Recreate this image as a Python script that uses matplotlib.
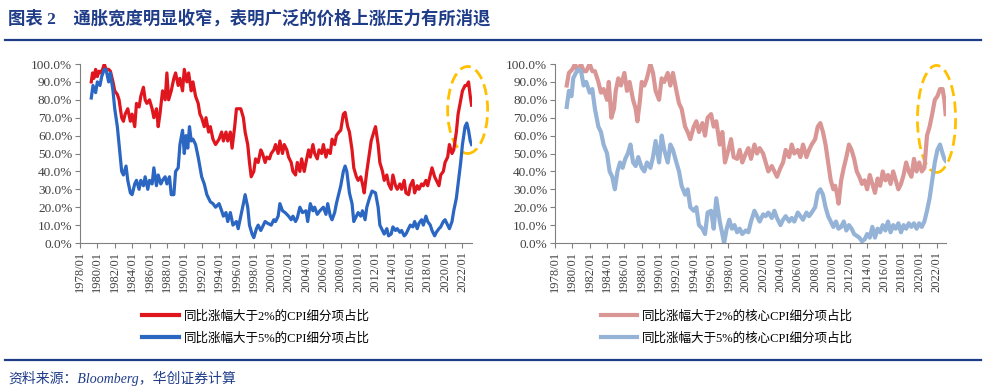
import numpy as np
import matplotlib.pyplot as plt
from matplotlib.patches import Ellipse
from matplotlib.lines import Line2D

plt.rcParams['font.family'] = ['Liberation Serif', 'Noto Sans CJK SC']

# ---- data ----
title = '图表 2    通胀宽度明显收窄，表明广泛的价格上涨压力有所消退'
source = '资料来源：Bloomberg，华创证券计算'
labels_left = ['同比涨幅大于2%的CPI细分项占比', '同比涨幅大于5%的CPI细分项占比']
labels_right = ['同比涨幅大于2%的核心CPI细分项占比', '同比涨幅大于5%的核心CPI细分项占比']
tick_years = list(range(1978, 2023, 2))
tick_labels = ['%d/01' % y for y in tick_years]
y_ticks = [0, 10, 20, 30, 40, 50, 60, 70, 80, 90, 100]

# headline CPI, share of items > 2%
cpi2_x = [1979.3, 1979.45, 1979.6, 1979.8, 1980.0, 1980.2, 1980.4, 1980.6, 1980.8, 1981.0,
          1981.3, 1981.5, 1981.8, 1982.0, 1982.3, 1982.5, 1982.8, 1983.0, 1983.2, 1983.5,
          1983.8, 1984.0, 1984.3, 1984.5, 1984.8, 1985.0, 1985.3, 1985.5, 1985.7, 1986.0,
          1986.3, 1986.5, 1986.8, 1987.0, 1987.2, 1987.5, 1987.8, 1988.0, 1988.2, 1988.5,
          1988.8, 1989.0, 1989.3, 1989.5, 1989.8, 1990.0, 1990.3, 1990.5, 1990.8, 1991.0,
          1991.3, 1991.6, 1991.8, 1992.0, 1992.3, 1992.5, 1992.8, 1993.0, 1993.3, 1993.6,
          1994.0, 1994.3, 1994.5, 1994.8, 1995.0, 1995.3, 1995.5, 1995.8, 1996.0, 1996.3,
          1996.5, 1996.8, 1997.0, 1997.3, 1997.5, 1997.7, 1998.0, 1998.2, 1998.5, 1998.8,
          1999.0, 1999.3, 1999.5, 1999.8, 2000.0, 2000.3, 2000.5, 2000.8, 2001.0, 2001.3,
          2001.5, 2001.8, 2002.0, 2002.3, 2002.5, 2002.8, 2003.0, 2003.3, 2003.5, 2003.8,
          2004.0, 2004.3, 2004.5, 2004.8, 2005.0, 2005.3, 2005.5, 2005.8, 2006.0, 2006.3,
          2006.5, 2006.8, 2007.0, 2007.3, 2007.5, 2007.8, 2008.0, 2008.3, 2008.5, 2008.8,
          2009.0, 2009.3, 2009.5, 2009.8, 2010.0, 2010.3, 2010.5, 2010.7, 2011.0, 2011.3,
          2011.5, 2011.8, 2012.0, 2012.3, 2012.5, 2012.8, 2013.0, 2013.3, 2013.5, 2013.8,
          2014.0, 2014.3, 2014.5, 2014.8, 2015.0, 2015.3, 2015.5, 2015.8, 2016.0, 2016.3,
          2016.5, 2016.8, 2017.0, 2017.3, 2017.5, 2017.8, 2018.0, 2018.3, 2018.5, 2018.8,
          2019.0, 2019.3, 2019.5, 2019.8, 2020.0, 2020.3, 2020.5, 2020.8, 2021.0, 2021.3,
          2021.5, 2021.8, 2022.0, 2022.3, 2022.5, 2022.7, 2022.9, 2023.05]
cpi2_v = [90, 95, 92, 97, 93, 96, 95, 97, 100, 97,
          97, 96, 90, 85, 83, 80, 70, 68, 72, 75,
          68, 72, 65, 78, 76, 82, 87, 80, 78, 80,
          75, 70, 75, 65, 72, 85, 80, 95, 80, 85,
          92, 95, 88, 92, 85, 97, 90, 95, 85, 90,
          82, 78, 72, 70, 65, 70, 62, 65, 58, 55,
          58, 62, 57, 62, 57, 62, 53, 65, 75, 75,
          75, 70, 62, 55, 45, 37, 40, 47, 45, 52,
          50, 45, 48, 47, 50, 52, 55, 50, 57, 50,
          55, 52, 48, 45, 40, 38, 45, 40, 47, 40,
          45, 52, 48, 55, 50, 47, 52, 50, 55, 48,
          52, 50, 58, 55, 60, 62, 63, 72, 73, 65,
          62, 52, 42, 37, 35, 37, 33, 28, 40, 50,
          57, 62, 65, 55, 45, 40, 35, 38, 33, 30,
          38, 32, 30, 33, 30, 35, 28, 27, 32, 35,
          28, 32, 30, 33, 32, 35, 32, 38, 42, 37,
          35, 32, 38, 40, 45, 48, 55, 50, 52, 62,
          72, 80, 85, 88, 88, 90, 82, 77]

# headline CPI, share of items > 5%
cpi5_x = [1979.3, 1979.5, 1979.8, 1980.0, 1980.3, 1980.5, 1980.8, 1981.0, 1981.3, 1981.5,
          1981.8, 1982.0, 1982.3, 1982.5, 1982.8, 1983.0, 1983.3, 1983.5, 1983.8, 1984.0,
          1984.3, 1984.5, 1984.8, 1985.0, 1985.3, 1985.5, 1985.8, 1986.0, 1986.3, 1986.5,
          1986.8, 1987.0, 1987.3, 1987.5, 1987.8, 1988.0, 1988.3, 1988.5, 1988.8, 1989.0,
          1989.3, 1989.5, 1989.8, 1990.0, 1990.2, 1990.4, 1990.6, 1990.8, 1991.0, 1991.3,
          1991.6, 1992.0, 1992.3, 1992.6, 1993.0, 1993.3, 1993.6, 1994.0, 1994.3, 1994.5,
          1994.8, 1995.0, 1995.3, 1995.6, 1996.0, 1996.2, 1996.5, 1996.8, 1997.0, 1997.3,
          1997.5, 1997.8, 1998.0, 1998.3, 1998.5, 1998.8, 1999.0, 1999.3, 1999.6, 2000.0,
          2000.3, 2000.5, 2000.8, 2001.0, 2001.3, 2001.6, 2002.0, 2002.3, 2002.5, 2002.8,
          2003.0, 2003.3, 2003.6, 2004.0, 2004.2, 2004.5, 2004.8, 2005.0, 2005.3, 2005.6,
          2006.0, 2006.3, 2006.5, 2006.8, 2007.0, 2007.3, 2007.5, 2007.8, 2008.0, 2008.3,
          2008.5, 2008.7, 2009.0, 2009.3, 2009.5, 2009.8, 2010.0, 2010.3, 2010.5, 2010.8,
          2011.0, 2011.3, 2011.6, 2012.0, 2012.3, 2012.5, 2012.8, 2013.0, 2013.3, 2013.5,
          2013.8, 2014.0, 2014.3, 2014.5, 2014.8, 2015.0, 2015.3, 2015.5, 2015.8, 2016.0,
          2016.3, 2016.5, 2016.8, 2017.0, 2017.3, 2017.5, 2017.8, 2018.0, 2018.3, 2018.5,
          2018.8, 2019.0, 2019.3, 2019.5, 2019.8, 2020.0, 2020.3, 2020.5, 2020.8, 2021.0,
          2021.3, 2021.5, 2021.8, 2022.0, 2022.3, 2022.5, 2022.7, 2022.9, 2023.05]
cpi5_v = [81, 88, 84, 90, 88, 93, 97, 97, 90, 95,
          85, 75, 65, 55, 40, 38, 43, 35, 28, 27,
          33, 35, 30, 35, 32, 37, 30, 35, 33, 42,
          32, 38, 33, 35, 37, 33, 37, 27, 27, 40,
          42, 55, 63, 50, 60, 53, 65, 57, 58, 55,
          48, 37, 33, 27, 23, 22, 20, 22, 18, 15,
          17, 12, 17, 10, 12, 8, 15, 22, 27, 20,
          10, 5, 3, 8, 10, 7, 9, 12, 11, 10,
          13, 12, 15, 22, 18, 17, 15, 13, 15, 12,
          14, 20, 17, 18, 12, 22, 18, 20, 16, 18,
          20, 16, 22, 15, 13, 17, 22, 28, 32, 40,
          43, 40, 28, 22, 12, 15, 17, 15, 18, 13,
          20, 25, 29, 28, 20, 10, 7, 5, 8, 4,
          5, 9, 7, 8, 6, 7, 4, 5, 8, 10,
          9, 12, 8, 11, 13, 10, 15, 12, 10, 7,
          4, 6, 8, 9, 12, 13, 10, 8, 12, 18,
          25, 33, 45, 55, 65, 67, 63, 57, 55]

# core CPI, share of items > 2%
core2_x = [1979.35, 1979.6, 1980.0, 1980.3, 1980.6, 1981.0, 1981.3, 1981.6, 1982.0, 1982.3,
           1982.6, 1983.0, 1983.3, 1983.6, 1984.0, 1984.2, 1984.5, 1984.8, 1985.0, 1985.3,
           1985.6, 1986.0, 1986.3, 1986.6, 1987.0, 1987.3, 1987.5, 1987.8, 1988.0, 1988.3,
           1988.6, 1989.0, 1989.3, 1989.6, 1990.0, 1990.3, 1990.6, 1991.0, 1991.3, 1991.6,
           1992.0, 1992.3, 1992.6, 1993.0, 1993.3, 1993.6, 1994.0, 1994.3, 1994.6, 1995.0,
           1995.3, 1995.6, 1996.0, 1996.3, 1996.6, 1997.0, 1997.3, 1997.6, 1998.0, 1998.3,
           1998.6, 1999.0, 1999.3, 1999.6, 2000.0, 2000.3, 2000.6, 2001.0, 2001.3, 2001.6,
           2002.0, 2002.3, 2002.6, 2003.0, 2003.3, 2003.6, 2004.0, 2004.3, 2004.6, 2005.0,
           2005.3, 2005.6, 2006.0, 2006.3, 2006.6, 2007.0, 2007.3, 2007.6, 2008.0, 2008.3,
           2008.6, 2008.9, 2009.2, 2009.5, 2009.8, 2010.1, 2010.3, 2010.5, 2010.7, 2011.0,
           2011.3, 2011.6, 2011.9, 2012.2, 2012.5, 2012.8, 2013.1, 2013.4, 2013.7, 2014.0,
           2014.3, 2014.6, 2014.9, 2015.2, 2015.5, 2015.8, 2016.1, 2016.4, 2016.7, 2017.0,
           2017.3, 2017.6, 2017.9, 2018.2, 2018.5, 2018.8, 2019.1, 2019.4, 2019.7, 2020.0,
           2020.3, 2020.6, 2020.9, 2021.2, 2021.5, 2021.8, 2022.1, 2022.4, 2022.7, 2022.9,
           2023.05]
core2_v = [88, 95, 97, 100, 96, 100, 96, 96, 100, 96,
           96, 90, 84, 86, 80, 90, 70, 75, 85, 92,
           88, 95, 85, 90, 80, 75, 68, 80, 90, 88,
           92, 100, 95, 85, 80, 92, 90, 95, 88, 95,
           85, 78, 75, 65, 62, 58, 65, 68, 62, 67,
           60, 70, 72, 65, 68, 55, 62, 45, 52, 58,
           48, 47, 52, 45, 50, 53, 47, 55, 50, 53,
           50, 45, 40, 43, 40, 37, 42, 45, 52, 48,
           55, 50, 52, 48, 55, 48, 52, 55, 58, 65,
           67, 62, 55, 45, 35, 30, 32, 28, 22, 35,
           42, 48, 55, 52, 47, 40, 37, 33, 35, 30,
           38, 33, 28, 36, 32, 40, 35, 38, 33, 40,
           35, 30, 33, 38, 45, 40, 37, 47, 40, 45,
           40, 42, 60, 65, 72, 80, 82, 86, 86, 80,
           72]

# core CPI, share of items > 5%
core5_x = [1979.35, 1979.6, 1979.9, 1980.1, 1980.4, 1980.7, 1981.0, 1981.3, 1981.6, 1982.0,
           1982.3, 1982.6, 1983.0, 1983.3, 1983.6, 1984.0, 1984.3, 1984.6, 1984.9, 1985.2,
           1985.5, 1985.8, 1986.1, 1986.4, 1986.7, 1987.0, 1987.3, 1987.6, 1988.0, 1988.3,
           1988.6, 1989.0, 1989.3, 1989.6, 1990.0, 1990.3, 1990.6, 1991.0, 1991.3, 1991.6,
           1992.0, 1992.3, 1992.6, 1993.0, 1993.3, 1993.6, 1994.0, 1994.3, 1994.6, 1995.0,
           1995.3, 1995.6, 1996.0, 1996.3, 1996.6, 1997.0, 1997.3, 1997.5, 1997.8, 1998.1,
           1998.4, 1998.7, 1999.0, 1999.3, 1999.6, 2000.0, 2000.3, 2000.6, 2001.0, 2001.3,
           2001.6, 2002.0, 2002.3, 2002.6, 2003.0, 2003.3, 2003.6, 2004.0, 2004.3, 2004.6,
           2005.0, 2005.3, 2005.6, 2006.0, 2006.3, 2006.6, 2007.0, 2007.3, 2007.6, 2008.0,
           2008.3, 2008.6, 2008.9, 2009.2, 2009.5, 2009.8, 2010.1, 2010.4, 2010.7, 2011.0,
           2011.3, 2011.6, 2011.9, 2012.2, 2012.5, 2012.8, 2013.1, 2013.4, 2013.7, 2014.0,
           2014.3, 2014.6, 2014.9, 2015.2, 2015.5, 2015.8, 2016.1, 2016.4, 2016.7, 2017.0,
           2017.3, 2017.6, 2017.9, 2018.2, 2018.5, 2018.8, 2019.1, 2019.4, 2019.7, 2020.0,
           2020.3, 2020.6, 2020.9, 2021.2, 2021.5, 2021.8, 2022.1, 2022.4, 2022.7, 2022.9,
           2023.05]
core5_v = [76, 85, 82, 92, 95, 97, 96, 88, 90, 84,
           86, 75, 65, 62, 55, 50, 40, 37, 30, 40,
           45, 42, 47, 50, 55, 45, 43, 48, 42, 40,
           45, 42, 48, 57, 45, 60, 52, 45, 55, 52,
           45, 40, 32, 27, 30, 20, 18, 20, 10, 8,
           5, 17, 18, 8, 25, 12, 5, 0, 8, 13,
           8, 10, 6, 8, 5, 7, 6, 12, 18, 15,
           12, 16, 15, 17, 14, 18, 14, 10, 13, 15,
           12, 14, 12, 17, 15, 13, 17, 15, 17, 20,
           28, 30, 27, 20, 15, 12, 9, 12, 8, 9,
           12, 7, 10, 8, 5, 4, 3, 1, 2, 5,
           3, 9, 3, 8, 6, 10, 7, 12, 6, 10,
           8, 11, 6, 10, 8, 11, 9, 11, 8, 11,
           9, 12, 18, 25, 35, 45, 52, 55, 50, 47,
           46]

# ---- styling ----
navy = '#1F3C88'
red = '#E0161E'
blue = '#2A66C2'
pink = '#D99694'
lightblue = '#95B3D7'
gold = '#FFC000'

fig = plt.figure(figsize=(9.86, 3.91), dpi=100)


def setup_axis(ax):
    ax.set_xlim(1978, 2023.1)
    ax.set_ylim(0, 100)
    ax.set_xticks(tick_years)
    ax.set_xticklabels(tick_labels, rotation=90, fontsize=9, color='#404040')
    ax.set_yticks(y_ticks)
    ax.set_yticklabels(['%.1f%%' % v for v in y_ticks], fontsize=9.5, color='#404040')
    for s in ['top', 'right']:
        ax.spines[s].set_visible(False)
    for s in ['left', 'bottom']:
        ax.spines[s].set_color('#808080')
        ax.spines[s].set_linewidth(0.8)
    ax.tick_params(axis='both', direction='out', length=3.5, width=0.8, color='#808080', pad=2)


ax1 = fig.add_axes([0.0811, 0.3785, 0.3976, 0.4578])
ax1.plot(cpi2_x, cpi2_v, color=red, lw=2.3, solid_joinstyle='round')
ax1.plot(cpi5_x, cpi5_v, color=blue, lw=2.3, solid_joinstyle='round')
setup_axis(ax1)
ax1.add_patch(Ellipse((2022.6, 74.3), 4.6, 48.6, fill=False, edgecolor=gold, lw=2,
                      linestyle=(0, (4, 2)), clip_on=False))

ax2 = fig.add_axes([0.5629, 0.3785, 0.3966, 0.4578])
ax2.plot(core2_x, core2_v, color=pink, lw=3.0, solid_joinstyle='round')
ax2.plot(core5_x, core5_v, color=lightblue, lw=3.0, solid_joinstyle='round')
setup_axis(ax2)
ax2.add_patch(Ellipse((2022.0, 69.3), 4.4, 59.8, fill=False, edgecolor=gold, lw=2,
                      linestyle=(0, (4, 2)), clip_on=False))

# legends below each panel
h1 = [Line2D([], [], color=red, lw=3), Line2D([], [], color=blue, lw=3)]
ax1.legend(h1, labels_left, loc='upper left', bbox_to_anchor=(0.133, 0.235),
           bbox_transform=fig.transFigure, frameon=False, fontsize=9,
           handlelength=2.9, handletextpad=0.4, labelspacing=0.75)
h2 = [Line2D([], [], color=pink, lw=3), Line2D([], [], color=lightblue, lw=3)]
ax2.legend(h2, labels_right, loc='upper left', bbox_to_anchor=(0.598, 0.235),
           bbox_transform=fig.transFigure, frameon=False, fontsize=9,
           handlelength=2.9, handletextpad=0.4, labelspacing=0.75)

# title, rules and source
fig.text(0.008, 0.953, title, fontsize=12.5, fontweight='bold', color=navy, va='center')
fig.add_artist(Line2D([0.005, 0.995], [0.898, 0.898], color=navy, lw=1.6))
fig.add_artist(Line2D([0.005, 0.995], [0.079, 0.079], color=navy, lw=1.6))
fig.text(0.008, 0.033, source, fontsize=10, style='italic', color=navy, va='center')

fig.savefig('out.png', dpi=100)
